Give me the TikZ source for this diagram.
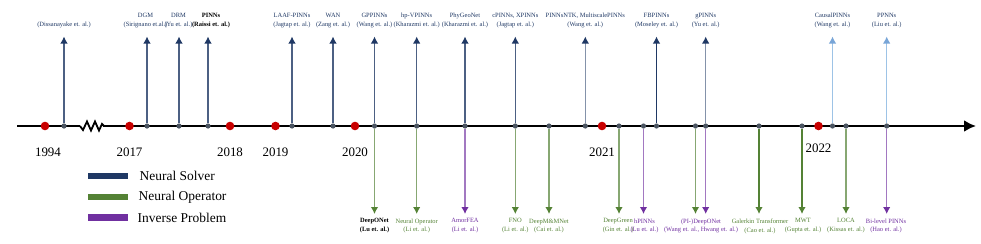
\documentclass[tikz,border=0pt]{standalone}
\usepackage{fontspec}
\setmainfont{Liberation Serif}
\usepackage{xcolor}
\usepackage{tikz}
\usetikzlibrary{arrows.meta,positioning,calc}

\definecolor{navy}{RGB}{31,56,100}
\definecolor{opgreen}{RGB}{84,130,53}
\definecolor{invpurple}{RGB}{112,48,160}
\definecolor{newblue}{RGB}{157,195,230}
\definecolor{newbluehead}{RGB}{120,165,215}
\definecolor{yearred}{RGB}{200,0,0}
\definecolor{dotgray}{RGB}{75,85,98}

\begin{document}
\begin{tikzpicture}[
  x=1bp, y=-1bp,
  font=\fontsize{6.5}{8.8}\selectfont,
  axisline/.style={line width=2.8bp, -{Latex[length=12bp,width=12bp]}},
  yeardot/.style={circle, fill=yearred, inner sep=0pt, minimum size=8.6bp},
  evdot/.style={circle, fill=dotgray, inner sep=0pt, minimum size=5.2bp},
  year/.style={font=\fontsize{13}{15}\selectfont, inner sep=0pt},
  toplab/.style={align=center, inner sep=0pt, anchor=south, text=navy},
  botlab/.style={align=center, inner sep=0pt, anchor=north},
  solver/.style={-{Latex[length=7bp,width=7.5bp,color=navy]}, line width=1.2bp, draw=navy!80, shorten >=8.5bp},
  solverlt/.style={solver, draw=navy!55},
  solvernew/.style={solver, draw=newblue, -{Latex[length=7bp,width=7.5bp,color=newbluehead]}},
  operator/.style={-{Latex[length=7bp,width=7.5bp,color=opgreen]}, line width=1.2bp, draw=opgreen!70, shorten >=4.5bp},
  inverse/.style={operator, draw=invpurple!65, -{Latex[length=7bp,width=7.5bp,color=invpurple]}},
  legbar/.style={minimum width=40bp, minimum height=6.5bp, inner sep=0pt},
  legtext/.style={font=\fontsize{13.5}{15}\selectfont, inner sep=0pt, right=11bp of #1},
]
\useasboundingbox (0,0) rectangle (981,243);

\coordinate (axstart) at (17,126);
\coordinate (axend) at (976,126);
\draw[line width=2.8bp] (axstart) -- (80,126);
\draw[line width=1.8bp, line join=miter] (80,126) -- (83,130) -- (87,121.5) -- (91,130.5) -- (95,121.5) -- (99,130.5) -- (102,124) -- (104,126);
\draw[axisline] (103,126) -- (axend);

\node[yeardot] (y1994) at (45,126) {};
\node[yeardot] (y2017) at (129.5,126) {};
\node[yeardot] (y2018) at (230,126) {};
\node[yeardot] (y2019) at (275.5,126) {};
\node[yeardot] (y2020) at (355,126) {};
\node[yeardot] (y2021) at (602,126) {};
\node[yeardot] (y2022) at (818.5,126) {};

\node[year, below=17bp of y1994, xshift=3bp] {1994};
\node[year, below=17bp of y2017] {2017};
\node[year, below=17bp of y2018] {2018};
\node[year, below=17bp of y2019] {2019};
\node[year, below=17bp of y2020] {2020};
\node[year, below=17bp of y2021] {2021};
\node[year, below=13.5bp of y2022] {2022};

\node[evdot] (t1) at (64,126) {};
\node[evdot] (t2) at (147,126) {};
\node[evdot] (t3) at (179,126) {};
\node[evdot] (t4) at (208,126) {};
\node[evdot] (t5) at (292,126) {};
\node[evdot] (t6) at (333,126) {};
\node[evdot] (t7) at (374.5,126) {};
\node[evdot] (t8) at (416.7,126) {};
\node[evdot] (t9) at (465,126) {};
\node[evdot] (t10) at (515.3,126) {};
\node[evdot] (t11) at (549,126) {};
\node[evdot] (t12) at (585.3,126) {};
\node[evdot] (t13) at (619,126) {};
\node[evdot] (t14) at (643.5,126) {};
\node[evdot] (t15) at (656.5,126) {};
\node[evdot] (t16) at (695.5,126) {};
\node[evdot] (t17) at (705.7,126) {};
\node[evdot] (t18) at (759,126) {};
\node[evdot] (t19) at (802,126) {};
\node[evdot] (t20) at (832.5,126) {};
\node[evdot] (t21) at (846,126) {};
\node[evdot] (t22) at (886.7,126) {};

\node[toplab] (dis) at (64,28) {(Dissanayake et. al.)};
\node[toplab] (dgm) at (145.5,28) {DGM\\(Sirignano et.al.)};
\node[toplab] (drm) at (178.5,28) {DRM\\(Yu et. al.)};
\node[toplab, text=black, font=\fontsize{6.5}{8.8}\selectfont\bfseries] (pinns) at (211,28) {PINNs\\(Raissi et. al.)};
\node[toplab] (laaf) at (292,28) {LAAF-PINNs\\(Jagtap et. al.)};
\node[toplab] (wan) at (333,28) {WAN\\(Zang et. al.)};
\node[toplab] (gppinns) at (374.5,28) {GPPINNs\\(Wang et. al.)};
\node[toplab] (hpv) at (416.7,28) {hp-VPINNs\\(Kharazmi et. al.)};
\node[toplab] (phygeo) at (465,28) {PhyGeoNet\\(Kharazmi et. al.)};
\node[toplab] (xpinns) at (515.3,28) {cPINNs, XPINNs\\(Jagtap et. al.)};
\node[toplab] (ntk) at (585.3,28) {PINNsNTK, MultiscalePINNs\\(Wang et. al.)};
\node[toplab] (fbpinns) at (656.5,28) {FBPINNs\\(Moseley et. al.)};
\node[toplab] (gpinns) at (705.7,28) {gPINNs\\(Yu et. al.)};
\node[toplab] (causal) at (832.5,28) {CausalPINNs\\(Wang et. al.)};
\node[toplab] (ppnns) at (886.7,28) {PPNNs\\(Liu et. al.)};

\node[botlab, font=\fontsize{6.5}{8.8}\selectfont\bfseries] (deeponet) at (374.5,218.5) {DeepONet\\(Lu et. al.)};
\node[botlab, text=opgreen] (neuralop) at (416.7,218.5) {Neural Operator\\(Li et. al.)};
\node[botlab, text=invpurple] (amorfea) at (465,218.5) {AmorFEA\\(Li et. al.)};
\node[botlab, text=opgreen] (fno) at (515.3,218.5) {FNO\\(Li et. al.)};
\node[botlab, text=opgreen] (deepmm) at (549,218.5) {DeepM\&MNet\\(Cai et. al.)};
\node[botlab, text=opgreen] (deepgreen) at (618,218.5) {DeepGreen\\(Gin et. al.)};
\node[botlab, text=invpurple] (hpinns) at (644.5,218.5) {hPINNs\\(Lu et. al.)};
\node[botlab, text=invpurple] (pideeponet) at (701,218.5) {(PI-)DeepONet\\(Wang et. al., Hwang et. al.)};
\node[botlab, text=opgreen] (galerkin) at (760,218.5) {Galerkin Transformer\\(Cao et. al.)};
\node[botlab, text=opgreen] (mwt) at (803,218.5) {MWT\\(Gupta et. al.)};
\node[botlab, text=opgreen] (loca) at (846,218.5) {LOCA\\(Kissas et. al.)};
\node[botlab, text=invpurple] (bilevel) at (886,218.5) {Bi-level PINNs\\(Hao et. al.)};

\draw[solver] (t1) -- (t1 |- dis.south);
\draw[solver] (t2) -- (t2 |- dgm.south);
\draw[solver] (t3) -- (t3 |- drm.south);
\draw[solver] (t4) -- (t4 |- pinns.south);
\draw[solver] (t5) -- (t5 |- laaf.south);
\draw[solver] (t6) -- (t6 |- wan.south);
\draw[solver] (t7) -- (t7 |- gppinns.south);
\draw[solver] (t8) -- (t8 |- hpv.south);
\draw[solver] (t9) -- (t9 |- phygeo.south);
\draw[solver] (t10) -- (t10 |- xpinns.south);
\draw[solverlt] (t12) -- (t12 |- ntk.south);
\draw[solver, draw=navy] (t15) -- (t15 |- fbpinns.south);
\draw[solverlt] (t17) -- (t17 |- gpinns.south);
\draw[solvernew] (t20) -- (t20 |- causal.south);
\draw[solvernew] (t22) -- (t22 |- ppnns.south);

\draw[operator] (t7) -- (t7 |- deeponet.north);
\draw[operator] (t8) -- (t8 |- neuralop.north);
\draw[inverse] (t9) -- (t9 |- amorfea.north);
\draw[operator] (t10) -- (t10 |- fno.north);
\draw[operator] (t11) -- (t11 |- deepmm.north);
\draw[operator] (t13) -- (t13 |- deepgreen.north);
\draw[inverse] (t14) -- (t14 |- hpinns.north);
\draw[operator] (t16) -- (t16 |- pideeponet.north);
\draw[inverse] (t17) -- (t17 |- pideeponet.north);
\draw[operator, draw=opgreen] (t18) -- (t18 |- galerkin.north);
\draw[operator, draw=opgreen] (t19) -- (t19 |- mwt.north);
\draw[operator] (t21) -- (t21 |- loca.north);
\draw[inverse] (t22) -- (t22 |- bilevel.north);

\node[legbar, fill=navy] (lsolver) at (108.3,176) {};
\node[legbar, fill=opgreen] (loperator) at (108.3,197) {};
\node[legbar, fill=invpurple] (linverse) at (108.3,217.5) {};
\node[legtext=lsolver] {Neural Solver};
\node[legtext=loperator, xshift=-1bp] {Neural Operator};
\node[legtext=linverse, xshift=-2bp] {Inverse Problem};

\end{tikzpicture}
\end{document}
